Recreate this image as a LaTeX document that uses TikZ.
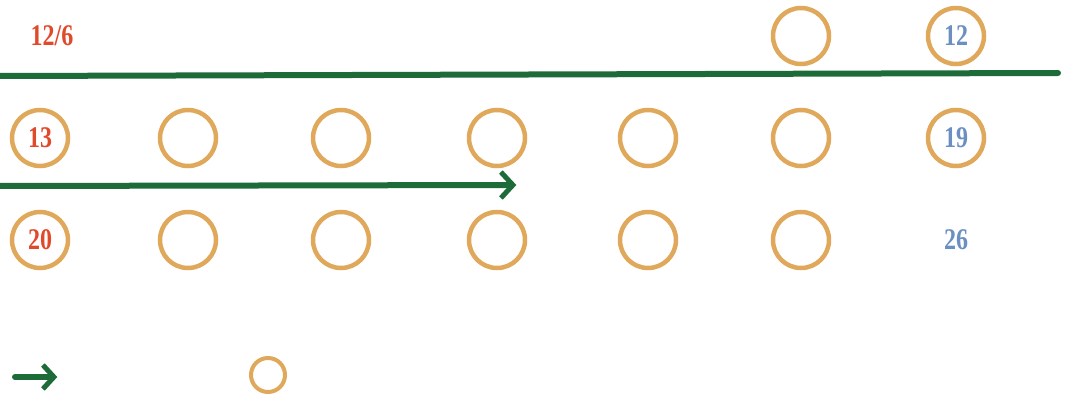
\documentclass[tikz,border=0pt]{standalone}
\usepackage{fontspec}
\setmainfont{Liberation Serif}
\usetikzlibrary{arrows.meta}
\definecolor{ring}{HTML}{E0A85A}
\definecolor{grn}{HTML}{1E6B3A}
\definecolor{rd}{HTML}{E04A2A}
\definecolor{bl}{HTML}{6A8FC0}
\begin{document}
\begin{tikzpicture}[x=1pt,y=-1pt,
  ringnode/.style={circle,draw=ring,line width=4.5pt,minimum size=56pt,inner sep=0pt},
  lbl/.style={font=\fontsize{30}{30}\selectfont\bfseries,inner sep=0pt},
  gline/.style={draw=grn,line width=6pt,line cap=round}]
\useasboundingbox (0,0) rectangle (1090,417);
\node[lbl,text=rd] (t126) at (52,36) {\scalebox{0.8}[1]{12/6}};
\node[ringnode] (r1a) at (801,36) {};
\node[ringnode] (r1b) at (956,36) {};
\node[text=bl,lbl] at (r1b) {\scalebox{0.8}[1]{12}};
\coordinate (l1s) at (0,76);
\coordinate (l1e) at (1058,73);
\draw[gline] (l1s) -- (l1e);
\foreach \x [count=\i] in {40,188,341,497,648,801,956}{
  \node[ringnode] (r2\i) at (\x,138) {};
}
\node[text=rd,lbl] at (r21) {\scalebox{0.8}[1]{13}};
\node[text=bl,lbl] at (r27) {\scalebox{0.8}[1]{19}};
\coordinate (a1s) at (0,186);
\node[inner sep=0pt] (a1e) at (517,185) {};
\draw[gline,-{Straight Barb[length=12pt,width=26pt,line width=5pt]}] (a1s) -- (a1e);
\foreach \x [count=\i] in {40,188,341,497,648,801}{
  \node[ringnode] (r3\i) at (\x,240) {};
}
\node[text=rd,lbl] at (r31) {\scalebox{0.8}[1]{20}};
\node[text=bl,lbl] (t26) at (956,240) {\scalebox{0.8}[1]{26}};
\coordinate (a2s) at (15,377);
\node[inner sep=0pt] (a2e) at (58,377) {};
\draw[gline,-{Straight Barb[length=11pt,width=24pt,line width=5pt]}] (a2s) -- (a2e);
\node[circle,draw=ring,line width=4pt,minimum size=34pt,inner sep=0pt] (leg) at (268,375) {};
\end{tikzpicture}
\end{document}
